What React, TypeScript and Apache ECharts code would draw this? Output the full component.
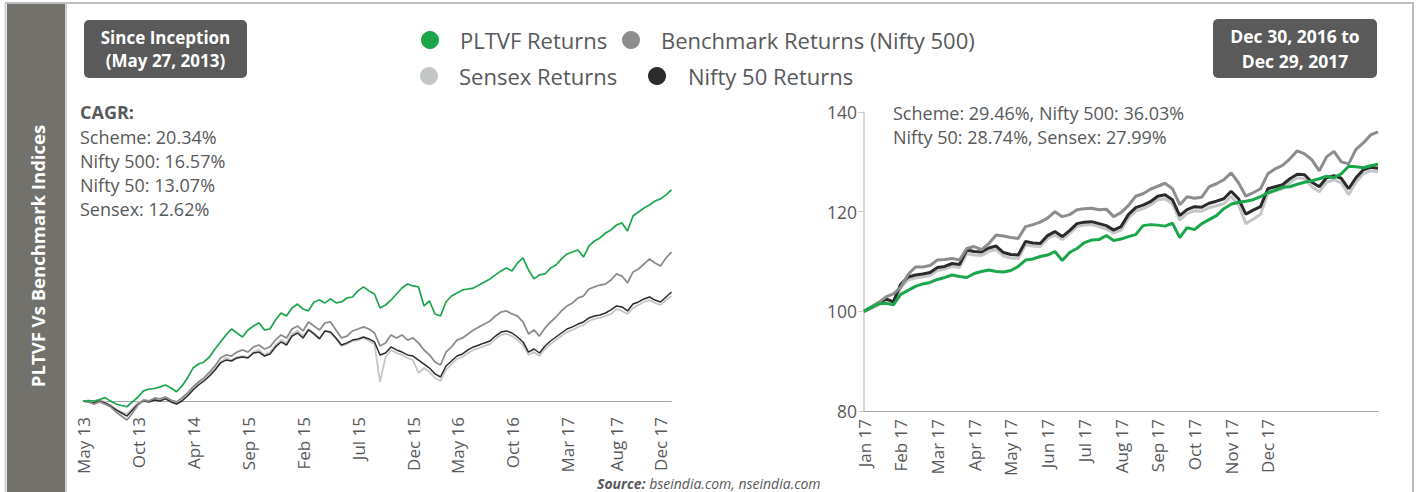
import React, { useEffect, useRef } from "react";
import * as echarts from "echarts";

// ---------- Left panel: since inception (index, start = 100) ----------
const leftTickIdx = [0, 10, 20, 30, 40, 50, 60, 68, 78, 88, 97, 105];
const leftTickLabels = ["May 13", "Oct 13", "Apr 14", "Sep 15", "Feb 15", "Jul 15", "Dec 15", "May 16", "Oct 16", "Mar 17", "Aug 17", "Dec 17"];

const leftPLTVF = [
  100.0, 100.3, 100.0, 100.9, 102.1, 100.0, 98.1, 97.2, 96.4, 99.4,
  102.5, 106.3, 107.5, 107.8, 108.8, 110.0, 108.1, 105.8, 109.4, 114.4,
  120.6, 123.1, 124.4, 127.5, 132.5, 136.9, 141.3, 145.0, 142.5, 140.0,
  144.4, 146.9, 148.9, 144.4, 145.0, 150.6, 155.0, 153.1, 158.1, 160.6,
  157.5, 156.3, 161.9, 163.1, 161.3, 163.8, 161.3, 161.9, 164.4, 165.0,
  168.8, 171.3, 168.8, 166.9, 158.1, 160.0, 163.1, 166.9, 170.6, 173.1,
  171.9, 171.3, 159.4, 162.5, 154.4, 153.1, 161.9, 165.6, 167.5, 169.4,
  170.0, 170.6, 172.5, 174.4, 176.3, 178.8, 181.3, 183.1, 181.3, 186.3,
  189.4, 181.9, 176.3, 178.8, 179.4, 183.1, 185.0, 188.8, 191.9, 193.1,
  194.4, 190.0, 196.9, 200.0, 201.9, 205.0, 206.9, 210.0, 211.3, 206.3,
  215.6, 218.1, 220.6, 222.5, 225.0, 226.3, 228.8, 231.9,
];
const leftNifty500 = [
  100.0, 99.4, 98.1, 99.4, 98.1, 96.3, 93.1, 90.6, 88.1, 92.5,
  97.5, 100.6, 100.0, 101.9, 101.3, 102.5, 100.6, 99.4, 101.9, 105.0,
  108.8, 111.9, 114.4, 118.1, 121.9, 126.9, 128.8, 128.1, 130.6, 131.9,
  130.6, 133.8, 135.0, 132.5, 133.8, 138.1, 141.3, 139.4, 145.0, 146.9,
  143.8, 149.4, 146.9, 144.4, 148.8, 149.4, 144.4, 139.4, 140.6, 143.8,
  145.0, 146.3, 145.0, 142.5, 134.4, 136.3, 141.3, 139.4, 141.3, 138.1,
  139.4, 136.3, 131.9, 128.8, 124.4, 122.5, 130.6, 133.8, 138.1, 139.4,
  141.9, 144.4, 146.3, 148.1, 150.0, 153.1, 155.6, 156.3, 154.4, 153.1,
  149.4, 141.9, 144.4, 140.6, 145.6, 149.4, 152.5, 156.3, 159.4, 161.3,
  164.4, 165.6, 170.0, 171.3, 172.5, 173.1, 175.6, 179.4, 178.1, 173.8,
  180.6, 182.5, 185.6, 188.8, 186.3, 184.4, 189.4, 193.1,
];
const leftNifty50 = [
  100.0, 99.4, 98.8, 100.0, 98.8, 96.9, 94.4, 92.5, 90.6, 94.4,
  98.1, 100.0, 99.4, 100.6, 100.0, 101.3, 99.4, 98.1, 100.0, 103.1,
  106.9, 110.0, 112.5, 115.6, 119.4, 123.8, 125.6, 125.0, 126.9, 127.5,
  126.9, 130.0, 130.6, 128.1, 129.4, 133.8, 136.9, 135.0, 140.6, 142.5,
  139.4, 144.4, 141.9, 138.8, 143.8, 143.1, 139.4, 135.0, 136.3, 138.1,
  138.8, 140.0, 138.8, 136.9, 128.8, 130.0, 133.8, 131.9, 130.6, 128.8,
  128.1, 125.6, 123.1, 120.6, 116.9, 115.0, 121.9, 125.0, 128.1, 129.4,
  131.9, 133.8, 135.0, 136.3, 137.5, 140.6, 143.1, 143.8, 142.5, 140.0,
  136.9, 130.6, 132.5, 130.0, 134.4, 137.5, 140.0, 142.5, 145.0, 146.3,
  148.1, 149.4, 151.9, 153.1, 153.8, 155.0, 156.9, 159.4, 158.8, 156.3,
  160.6, 161.9, 163.8, 165.0, 163.1, 161.9, 165.0, 168.1,
];
const leftSensex = [
  100.0, 100.0, 98.8, 100.6, 99.4, 97.5, 95.0, 93.1, 91.9, 95.6,
  98.8, 100.6, 100.0, 101.3, 100.6, 101.9, 100.0, 98.8, 100.6, 103.8,
  107.5, 110.6, 113.1, 116.3, 120.0, 124.4, 126.9, 125.6, 127.5, 128.1,
  127.5, 130.6, 131.9, 128.8, 130.6, 135.0, 138.1, 136.3, 141.9, 143.8,
  140.6, 145.0, 142.5, 139.4, 143.8, 142.5, 138.8, 134.4, 135.6, 137.5,
  138.1, 139.4, 137.5, 135.6, 111.9, 127.5, 131.9, 130.0, 128.8, 126.9,
  125.6, 117.5, 120.6, 118.1, 114.4, 112.5, 119.4, 123.1, 126.3, 127.5,
  130.0, 131.9, 133.1, 134.4, 135.6, 138.8, 141.3, 141.9, 140.6, 138.1,
  135.0, 128.8, 130.6, 128.1, 132.5, 135.6, 138.1, 140.6, 143.1, 144.4,
  146.3, 147.5, 150.0, 151.3, 151.9, 153.1, 154.4, 157.5, 156.3, 154.4,
  158.1, 160.0, 161.9, 163.1, 161.3, 160.0, 163.1, 165.6,
];

// ---------- Right panel: Dec 30, 2016 to Dec 29, 2017 ----------
const rightTickLabels = ["Jan 17", "Feb 17", "Mar 17", "Apr 17", "May 17", "Jun 17", "Jul 17", "Aug 17", "Sep 17", "Oct 17", "Nov 17", "Dec 17"];
const rightYTicks = { min: 80, max: 140, interval: 20 };

const rightPLTVF = [
  100.0, 100.8, 101.5, 101.6, 101.3, 103.4, 104.2, 105.0, 105.5, 105.8,
  106.4, 106.8, 107.3, 107.0, 106.8, 107.6, 108.0, 108.3, 108.0, 107.9,
  108.2, 109.0, 110.3, 110.5, 111.0, 111.3, 112.0, 110.2, 111.8, 112.6,
  113.8, 114.3, 114.4, 115.2, 114.2, 114.5, 115.0, 115.4, 117.2, 117.4,
  117.3, 117.1, 117.7, 114.8, 116.8, 116.4, 117.6, 118.4, 119.2, 120.6,
  121.5, 121.9, 122.1, 122.4, 123.0, 123.8, 124.3, 124.9, 125.0, 125.5,
  125.9, 126.2, 126.6, 127.1, 126.8, 127.6, 129.1, 129.0, 128.8, 129.2,
  129.5,
];
const rightNifty500 = [
  100.0, 100.9, 101.8, 102.9, 103.5, 104.8, 107.4, 108.9, 108.9, 109.2,
  110.3, 110.4, 110.6, 110.3, 112.6, 113.0, 112.4, 113.6, 115.3, 115.1,
  114.8, 114.6, 117.0, 117.4, 117.9, 118.7, 120.0, 119.0, 119.4, 120.4,
  120.6, 120.7, 120.4, 120.5, 119.0, 119.8, 121.2, 123.1, 123.6, 124.5,
  125.1, 125.7, 124.6, 121.4, 123.0, 122.7, 122.9, 125.0, 125.6, 126.4,
  127.8, 125.8, 123.1, 123.8, 124.6, 127.6, 128.6, 129.3, 130.6, 132.2,
  131.6, 130.4, 128.2, 131.0, 132.1, 130.0, 129.6, 132.5, 133.8, 135.4,
  136.0,
];
const rightNifty50 = [
  100.0, 100.8, 101.6, 102.5, 101.9, 105.4, 106.9, 107.3, 107.5, 107.8,
  108.8, 109.0, 109.6, 109.4, 112.3, 112.0, 111.9, 112.7, 113.1, 111.8,
  111.4, 111.3, 114.0, 113.7, 113.6, 115.2, 116.0, 115.0, 116.2, 117.6,
  117.9, 118.0, 117.6, 117.2, 116.3, 117.0, 119.4, 120.8, 121.3, 122.0,
  123.1, 123.4, 122.4, 119.2, 120.4, 121.0, 120.9, 121.7, 122.1, 122.6,
  124.1, 122.6, 119.5, 120.3, 121.0, 124.6, 125.0, 125.4, 126.6, 127.5,
  127.4, 125.9, 125.0, 126.8, 127.2, 126.7, 124.6, 126.8, 128.4, 128.9,
  128.7,
];
const rightSensex = [
  100.0, 100.6, 101.3, 102.1, 101.5, 104.8, 106.3, 106.7, 106.9, 107.2,
  108.2, 108.5, 109.0, 108.8, 111.6, 111.3, 111.2, 112.0, 112.4, 111.1,
  110.7, 110.6, 113.3, 113.1, 113.0, 114.6, 115.3, 114.4, 115.6, 117.0,
  117.3, 117.4, 117.0, 116.5, 115.7, 116.3, 118.7, 120.1, 120.6, 121.3,
  122.4, 122.6, 121.6, 118.3, 119.6, 120.2, 120.1, 120.8, 121.2, 121.6,
  123.1, 121.4, 117.6, 118.5, 119.5, 123.6, 124.2, 124.6, 125.8, 126.8,
  126.6, 125.0, 124.0, 125.9, 126.4, 125.8, 123.4, 125.9, 127.6, 128.2,
  128.0,
];

const seriesNames = ["PLTVF Returns", "Benchmark Returns (Nifty 500)", "Sensex Returns", "Nifty 50 Returns"];
const cagrLines = ["Scheme: 20.34%", "Nifty 500: 16.57%", "Nifty 50: 13.07%", "Sensex: 12.62%"];
const oneYearLines = ["Scheme: 29.46%, Nifty 500: 36.03%", "Nifty 50: 28.74%, Sensex: 27.99%"];

const GREEN = "#1ba64b";
const GREY = "#8d8d8d";
const LIGHT = "#c4c7c8";
const BLACK = "#2b2b2b";
const TEXT = "#58595b";
const FONT = '"Open Sans", "DejaVu Sans", sans-serif';

export default function App() {
  const ref = useRef<HTMLDivElement>(null);
  useEffect(() => {
    if (!ref.current) return;
    const chart = echarts.init(ref.current, null, { renderer: "svg" });
    const leftCats = leftPLTVF.map((_, i) => String(i));
    const rightCats = rightPLTVF.map((_, i) => String(i));

    const line = (name: string, data: number[], color: string, idx: number, width: number, z: number) => ({
      name,
      type: "line",
      xAxisIndex: idx,
      yAxisIndex: idx,
      data,
      showSymbol: false,
      symbol: "none",
      z,
      lineStyle: { color, width },
      itemStyle: { color },
    });

    const legendItems = [
      { cx: 430, cy: 40, color: GREEN, tx: 460, name: seriesNames[0] },
      { cx: 631, cy: 40, color: GREY, tx: 661, name: seriesNames[1] },
      { cx: 429, cy: 76, color: LIGHT, tx: 459, name: seriesNames[2] },
      { cx: 657, cy: 76, color: BLACK, tx: 688, name: seriesNames[3] },
    ];

    const graphic: any[] = [
      { type: "rect", shape: { x: 7, y: 3, width: 58, height: 495 }, style: { fill: "#72716c" } },
      { type: "line", shape: { x1: 5.5, y1: 3, x2: 5.5, y2: 492 }, style: { stroke: "#cfcfcf", lineWidth: 2 } },
      { type: "line", shape: { x1: 66, y1: 3, x2: 66, y2: 492 }, style: { stroke: "#cfcfcf", lineWidth: 2 } },
      { type: "line", shape: { x1: 5, y1: 3, x2: 1414, y2: 3 }, style: { stroke: "#bdbdbd", lineWidth: 2 } },
      { type: "line", shape: { x1: 1413, y1: 3, x2: 1413, y2: 492 }, style: { stroke: "#bdbdbd", lineWidth: 2 } },
      {
        type: "text", x: 37, y: 256, rotation: Math.PI / 2,
        style: { text: "PLTVF Vs Benchmark Indices", fill: "#fff", fontSize: 18.5, fontWeight: "bold", fontFamily: FONT, textAlign: "center", textVerticalAlign: "middle" },
      },
      { type: "rect", shape: { x: 84, y: 20, width: 163, height: 58, r: 5 }, style: { fill: "#5a5a5a" } },
      {
        type: "text", x: 165.5, y: 49,
        style: { text: "Since Inception\n(May 27, 2013)", fill: "#fff", fontSize: 17, fontWeight: "bold", fontFamily: FONT, lineHeight: 23, textAlign: "center", textVerticalAlign: "middle" },
      },
      { type: "rect", shape: { x: 1213, y: 19, width: 164, height: 59, r: 5 }, style: { fill: "#5a5a5a" } },
      {
        type: "text", x: 1295, y: 48.5,
        style: { text: "Dec 30, 2016 to\nDec 29, 2017", fill: "#fff", fontSize: 17.5, fontWeight: "bold", fontFamily: FONT, lineHeight: 25, textAlign: "center", textVerticalAlign: "middle" },
      },
      {
        type: "text", x: 80, y: 112,
        style: { text: "CAGR:", fill: TEXT, fontSize: 18, fontWeight: "bold", fontFamily: FONT, textVerticalAlign: "middle" },
      },
      ...cagrLines.map((t, i) => ({
        type: "text", x: 80, y: 137 + i * 24,
        style: { text: t, fill: TEXT, fontSize: 18, fontFamily: FONT, textVerticalAlign: "middle" },
      })),
      ...oneYearLines.map((t, i) => ({
        type: "text", x: 893, y: 113 + i * 24,
        style: { text: t, fill: TEXT, fontSize: 18, fontFamily: FONT, textVerticalAlign: "middle" },
      })),
      ...legendItems.flatMap((l) => [
        { type: "circle", shape: { cx: l.cx, cy: l.cy, r: 9 }, style: { fill: l.color } },
        { type: "text", x: l.tx, y: l.cy, style: { text: l.name, fill: TEXT, fontSize: 22, fontFamily: FONT, textVerticalAlign: "middle" } },
      ]),
      {
        type: "text", x: 597, y: 483,
        style: {
          text: "{b|Source:} bseindia.com, nseindia.com",
          fill: TEXT, fontSize: 14, fontStyle: "italic", fontFamily: FONT, textVerticalAlign: "middle",
          rich: { b: { fontWeight: "bold", fontStyle: "italic", fontSize: 14, fontFamily: FONT, fill: TEXT } },
        },
      },
    ];

    chart.setOption({
      animation: false,
      backgroundColor: "#ffffff",
      grid: [
        { left: 83, top: 177, width: 588.5, height: 256 },
        { left: 864, top: 112, width: 514, height: 299 },
      ],
      xAxis: [
        {
          type: "category", gridIndex: 0, data: leftCats, boundaryGap: false, offset: -32,
          axisLine: { lineStyle: { color: "#a7a7a7", width: 1 } },
          axisTick: { show: false },
          axisLabel: {
            rotate: 90, margin: 16, color: TEXT, fontSize: 17, fontFamily: FONT,
            interval: (i: number) => leftTickIdx.indexOf(i) >= 0,
            formatter: (_v: string, i: number) => {
              const k = leftTickIdx.indexOf(i);
              return k >= 0 ? leftTickLabels[k] : "";
            },
          },
          splitLine: { show: false },
        },
        {
          type: "category", gridIndex: 1, data: rightCats, boundaryGap: false,
          axisLine: { lineStyle: { color: "#a7a7a7", width: 1 } },
          axisTick: { show: false },
          axisLabel: {
            rotate: 90, margin: 8, color: TEXT, fontSize: 17, fontFamily: FONT,
            interval: 4,
            formatter: (_v: string, i: number) => rightTickLabels[Math.round(i / 5)] || "",
          },
          splitLine: { show: false },
        },
      ],
      yAxis: [
        { type: "value", gridIndex: 0, min: 80, max: 240, show: false, splitLine: { show: false } },
        {
          type: "value", gridIndex: 1, min: rightYTicks.min, max: rightYTicks.max, interval: rightYTicks.interval,
          axisLine: { show: true, lineStyle: { color: "#cccccc", width: 1.5 } },
          axisTick: { show: true, length: 6, lineStyle: { color: "#cccccc" } },
          axisLabel: { color: TEXT, fontSize: 17.5, fontFamily: FONT, margin: 7 },
          splitLine: { show: false },
        },
      ],
      graphic,
      series: [
        line(seriesNames[2], leftSensex, LIGHT, 0, 1.8, 2),
        line(seriesNames[3], leftNifty50, BLACK, 0, 1.5, 3),
        line(seriesNames[1], leftNifty500, GREY, 0, 1.8, 4),
        line(seriesNames[0], leftPLTVF, GREEN, 0, 1.7, 5),
        line(seriesNames[2], rightSensex, LIGHT, 1, 3, 2),
        line(seriesNames[3], rightNifty50, BLACK, 1, 3, 3),
        line(seriesNames[1], rightNifty500, GREY, 1, 3, 4),
        line(seriesNames[0], rightPLTVF, GREEN, 1, 3, 5),
      ],
    });
    return () => chart.dispose();
  }, []);

  return (
    <div
      ref={ref}
      style={{ position: "fixed", left: 0, top: 0, width: 1417, height: 492, background: "#fff" }}
    />
  );
}
